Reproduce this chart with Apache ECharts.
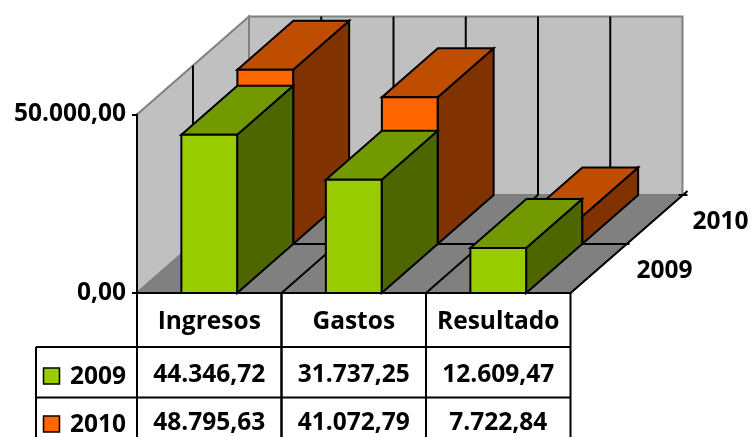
<!DOCTYPE html>
<html>
<head>
<meta charset="utf-8">
<title>Ingresos y gastos</title>
<script src="https://cdn.jsdelivr.net/npm/echarts@6/dist/echarts.min.js"></script>
<style>
html, body { margin: 0; padding: 0; background: #fff; }
#chart { width: 751px; height: 437px; }
</style>
</head>
<body>
<div id="chart"></div>
<script>
var categories = ['Ingresos', 'Gastos', 'Resultado'];
var years = ['2009', '2010'];
var values2009 = [44346.72, 31737.25, 12609.47];
var values2010 = [48795.63, 41072.79, 7722.84];
var yMax = 50000;

var FONT_FAMILY = '"Open Sans", Lato, sans-serif';
var FONT_SIZE = 24.5;
var FONT = 'bold ' + FONT_SIZE + 'px ' + FONT_FAMILY;
var DX = 56, DY = 49;        // oblique offset of one row in depth
var LINE = 2;

// 44346.72 -> 44.346,72
function fmt(v) {
    var p = v.toFixed(2).split('.');
    return p[0].replace(/\B(?=(\d{3})+$)/g, '.') + ',' + p[1];
}

function poly(points, fill, stroke, lw) {
    return {
        type: 'polygon',
        shape: { points: points },
        style: { fill: fill, stroke: stroke || '#000', lineWidth: lw || LINE, lineJoin: 'miter' }
    };
}
function seg(x1, y1, x2, y2, color, lw) {
    return {
        type: 'line',
        shape: { x1: x1, y1: y1, x2: x2, y2: y2 },
        style: { stroke: color || '#000', lineWidth: lw || LINE, lineCap: 'butt' }
    };
}
function label(text, x, y, align) {
    return {
        type: 'text',
        style: { text: text, x: x, y: y, font: FONT, fill: '#000', align: align || 'center', verticalAlign: 'middle' }
    };
}

// walls, floor and their grid lines
function renderBox(params, api) {
    var w = api.size([1, 0])[0];
    var o = api.coord([0, 0]);
    var top = api.coord([0, yMax])[1];
    var x0 = o[0] - w / 2, y0 = o[1];
    var n = categories.length;
    var x1 = x0 + n * w;
    var bx = 2 * DX, by = 2 * DY;
    var kids = [
        poly([[x0, y0], [x0, top], [x0 + bx, top - by], [x0 + bx, y0 - by]], '#c0c0c0', '#808080'),
        poly([[x0 + bx, top - by], [x1 + bx, top - by], [x1 + bx, y0 - by], [x0 + bx, y0 - by]], '#c0c0c0', '#808080'),
        poly([[x0, y0], [x1, y0], [x1 + bx, y0 - by], [x0 + bx, y0 - by]], '#808080', '#808080')
    ];
    var i;
    // back wall verticals every half category
    for (i = 1; i < 2 * n; i++) {
        kids.push(seg(x0 + bx + i * w / 2, top - by, x0 + bx + i * w / 2, y0 - by));
    }
    // left wall, between the two rows
    kids.push(seg(x0 + DX, top - DY, x0 + DX, y0 - DY));
    // floor
    kids.push(seg(x0 + DX, y0 - DY, x1 + DX + 3, y0 - DY));
    for (i = 1; i < n; i++) {
        kids.push(seg(x0 + i * w, y0, x0 + i * w + bx, y0 - by));
    }
    kids.push(seg(x1, y0, x1 + bx + 5, y0 - by - 4));
    kids.push(seg(x1 + bx - 4, y0 - by, x1 + bx + 5, y0 - by));
    // depth axis names
    kids.push(label(years[0], x1 + DX / 2 + 66, y0 - DY / 2 + 3));
    kids.push(label(years[1], x1 + DX * 1.5 + 66, y0 - DY * 1.5 + 3));
    return { type: 'group', children: kids };
}

// table under the plot, one column per category
function renderTable(params, api) {
    var i = api.value(0);
    var w = api.size([1, 0])[0];
    var o = api.coord([i, 0]);
    var cx = o[0], y0 = o[1];
    var rowA = 347, rowB = 397.5, end = 437;
    var kids = [
        seg(cx - w / 2, y0, cx - w / 2, end),
        seg(cx + w / 2, y0, cx + w / 2, end),
        seg(cx - w / 2, rowA, cx + w / 2, rowA),
        seg(cx - w / 2, rowB, cx + w / 2, rowB),
        label(fmt(values2009[i]), cx, rowA + 28),
        label(fmt(values2010[i]), cx, rowB + 26)
    ];
    if (i === 0) {
        var xl = 36, x = cx - w / 2;
        kids.push(seg(xl, rowA, x, rowA), seg(xl, rowB, x, rowB), seg(xl, rowA, xl, end));
        kids.push({ type: 'rect', shape: { x: 43.5, y: 368, width: 16, height: 16 }, style: { fill: '#99cc00', stroke: '#000', lineWidth: 1.5 } });
        kids.push({ type: 'rect', shape: { x: 43.5, y: 416, width: 16, height: 16 }, style: { fill: '#ff6600', stroke: '#000', lineWidth: 1.5 } });
        kids.push(label(years[0], 70, rowA + 30, 'left'));
        kids.push(label(years[1], 70, rowB + 28, 'left'));
    }
    return { type: 'group', children: kids };
}

function barRenderer(row, front, topFace, side) {
    return function (params, api) {
        var i = api.value(0);
        var c = api.coord([i, api.value(1)]);
        var base = api.coord([i, 0]);
        var w = api.size([1, 0])[0] * 0.386;
        var l = c[0] - w / 2 + row * DX, r = l + w;
        var t = c[1] - row * DY, b = base[1] - row * DY;
        return {
            type: 'group',
            children: [
                poly([[r, t], [r + DX, t - DY], [r + DX, b - DY], [r, b]], side),
                poly([[l, t], [l + DX, t - DY], [r + DX, t - DY], [r, t]], topFace),
                poly([[l, t], [r, t], [r, b], [l, b]], front)
            ]
        };
    };
}

function pairs(arr) {
    return arr.map(function (v, i) { return [i, v]; });
}

var myChart = echarts.init(document.getElementById('chart'));
var option = {
    animation: false,
    grid: { left: 137, right: 180.5, top: 114.5, bottom: 144 },
    xAxis: {
        type: 'category',
        data: categories,
        z: 5,
        axisLine: { show: true, lineStyle: { color: '#000', width: 2 } },
        axisTick: { show: false },
        axisLabel: { color: '#000', fontFamily: FONT_FAMILY, fontWeight: 'bold', fontSize: FONT_SIZE, margin: 17, interval: 0, hideOverlap: false }
    },
    yAxis: {
        type: 'value',
        min: 0,
        max: yMax,
        interval: yMax,
        z: 5,
        splitLine: { show: false },
        axisLine: { show: true, lineStyle: { color: '#000', width: 2 } },
        axisTick: { show: true, length: 5, lineStyle: { color: '#000', width: 2 } },
        axisLabel: { color: '#000', fontFamily: FONT_FAMILY, fontWeight: 'bold', fontSize: FONT_SIZE, margin: 11, formatter: fmt }
    },
    series: [
        { type: 'custom', renderItem: renderBox, data: [[0, 0]], encode: { x: 0, y: 1 }, z: 1, silent: true, clip: false },
        { type: 'custom', name: years[1], renderItem: barRenderer(1, '#ff6600', '#bf4d00', '#803300'), data: pairs(values2010), encode: { x: 0, y: 1 }, z: 2, clip: false },
        { type: 'custom', name: years[0], renderItem: barRenderer(0, '#99cc00', '#739900', '#4d6600'), data: pairs(values2009), encode: { x: 0, y: 1 }, z: 3, clip: false },
        { type: 'custom', renderItem: renderTable, data: pairs([0, 0, 0]), encode: { x: 0, y: 1 }, z: 4, silent: true, clip: false }
    ]
};
myChart.setOption(option);
</script>
</body>
</html>
